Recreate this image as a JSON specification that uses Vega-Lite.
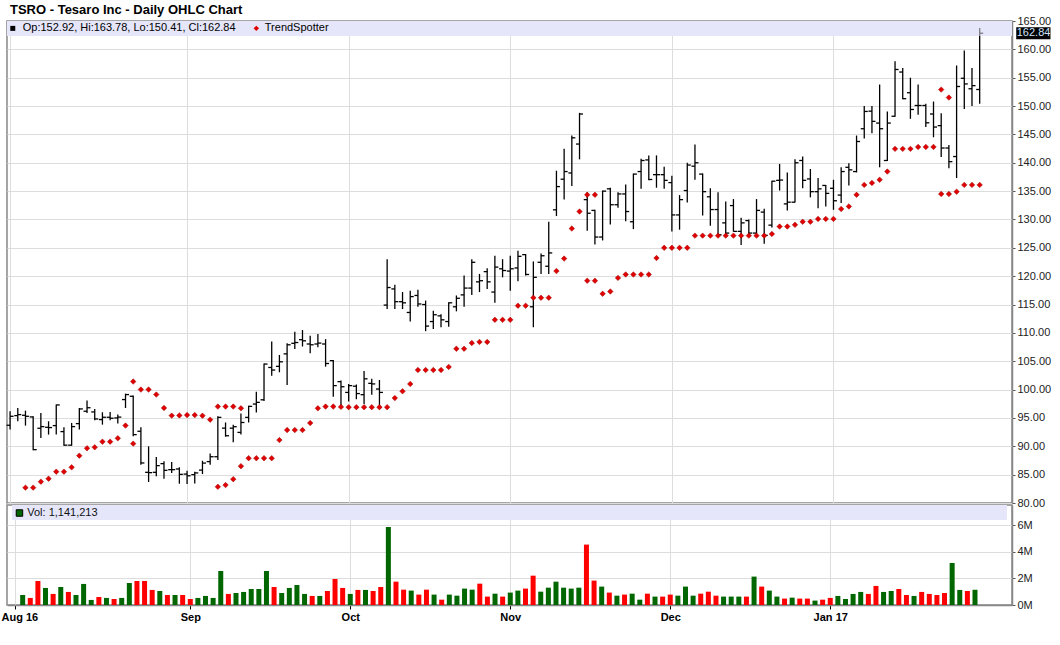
{
"$schema": "https://vega.github.io/schema/vega-lite/v6.json",
"background": "white",
"padding": {"left": 0, "top": 3, "right": 0, "bottom": 0},
"title": {"text": "TSRO - Tesaro Inc - Daily OHLC Chart", "anchor": "start", "frame": "group", "dx": 3, "font": "Liberation Sans", "fontSize": 13, "fontWeight": "bold", "color": "#000000", "offset": -2.5},
"config": {"view": {"stroke": "#888888", "strokeWidth": 1.5}, "axis": {"labelFont": "Liberation Sans", "labelFontSize": 11, "labelColor": "#222222", "gridColor": "#dddddd", "gridWidth": 1, "domainColor": "#888888", "domainWidth": 1.5, "labelOverlap": false}},
"spacing": 2,
"bounds": "flush",
"datasets": {
"px": [
{"i":0,"o":93.71,"h":96.18,"l":92.94,"c":95.29},
{"i":1,"o":95.41,"h":96.76,"l":94.41,"c":95.59,"v":750000,"d":"up"},
{"i":2,"o":95.47,"h":96.29,"l":93.65,"c":95.29,"v":530000,"d":"down"},
{"i":3,"o":95.18,"h":95.3,"l":89.29,"c":89.41,"v":1800000,"d":"down"},
{"i":4,"o":93.18,"h":95.88,"l":91.47,"c":93.47,"v":1280000,"d":"up"},
{"i":5,"o":93.35,"h":94.41,"l":92.06,"c":93.3,"v":830000,"d":"down"},
{"i":6,"o":93.65,"h":97.35,"l":92.06,"c":97.29,"v":1350000,"d":"up"},
{"i":7,"o":92.59,"h":93.35,"l":90.1,"c":90.2,"v":980000,"d":"down"},
{"i":8,"o":90.2,"h":94.12,"l":90.1,"c":93.47,"v":750000,"d":"up"},
{"i":9,"o":94.0,"h":96.76,"l":92.94,"c":96.59,"v":1580000,"d":"up"},
{"i":10,"o":96.18,"h":98.06,"l":95.88,"c":96.8,"v":380000,"d":"up"},
{"i":11,"o":96.06,"h":96.59,"l":94.59,"c":94.82,"v":600000,"d":"down"},
{"i":12,"o":94.71,"h":96.0,"l":93.82,"c":95.12,"v":530000,"d":"up"},
{"i":13,"o":95.12,"h":96.06,"l":94.59,"c":94.95,"v":450000,"d":"down"},
{"i":14,"o":95.0,"h":95.59,"l":94.0,"c":95.15,"v":530000,"d":"up"},
{"i":15,"o":98.24,"h":99.29,"l":96.76,"c":99.12,"v":1650000,"d":"up"},
{"i":16,"o":98.82,"h":98.94,"l":91.76,"c":92.06,"v":1800000,"d":"down"},
{"i":17,"o":92.65,"h":93.35,"l":86.76,"c":87.06,"v":1800000,"d":"down"},
{"i":18,"o":85.41,"h":90.0,"l":83.71,"c":85.35,"v":1130000,"d":"down"},
{"i":19,"o":85.41,"h":88.12,"l":84.71,"c":86.59,"v":1050000,"d":"up"},
{"i":20,"o":86.94,"h":87.35,"l":84.29,"c":85.76,"v":750000,"d":"down"},
{"i":21,"o":85.88,"h":87.24,"l":85.29,"c":85.88,"v":750000,"d":"up"},
{"i":22,"o":86.0,"h":86.3,"l":83.4,"c":85.05,"v":750000,"d":"down"},
{"i":23,"o":85.1,"h":85.69,"l":83.33,"c":84.8,"v":450000,"d":"down"},
{"i":24,"o":85.0,"h":85.5,"l":83.45,"c":85.3,"v":530000,"d":"up"},
{"i":25,"o":85.8,"h":87.45,"l":85.1,"c":87.04,"v":680000,"d":"up"},
{"i":26,"o":87.3,"h":88.75,"l":86.75,"c":88.16,"v":530000,"d":"up"},
{"i":27,"o":88.16,"h":95.28,"l":87.57,"c":95.1,"v":2550000,"d":"up"},
{"i":28,"o":93.2,"h":94.2,"l":91.7,"c":91.86,"v":830000,"d":"down"},
{"i":29,"o":93.2,"h":93.8,"l":90.7,"c":93.45,"v":900000,"d":"up"},
{"i":30,"o":92.45,"h":95.8,"l":92.1,"c":94.2,"v":980000,"d":"up"},
{"i":31,"o":95.1,"h":97.16,"l":94.2,"c":97.04,"v":1200000,"d":"up"},
{"i":32,"o":97.45,"h":99.63,"l":95.98,"c":97.75,"v":1200000,"d":"up"},
{"i":33,"o":98.2,"h":104.6,"l":98.0,"c":104.5,"v":2550000,"d":"up"},
{"i":34,"o":103.9,"h":108.5,"l":102.45,"c":103.45,"v":1350000,"d":"down"},
{"i":35,"o":104.1,"h":106.1,"l":103.05,"c":104.9,"v":900000,"d":"up"},
{"i":36,"o":106.3,"h":108.16,"l":100.8,"c":107.9,"v":1280000,"d":"up"},
{"i":37,"o":108.16,"h":110.2,"l":107.16,"c":108.3,"v":1500000,"d":"up"},
{"i":38,"o":108.8,"h":110.5,"l":107.6,"c":108.6,"v":830000,"d":"up"},
{"i":39,"o":108.04,"h":109.5,"l":106.4,"c":107.9,"v":680000,"d":"down"},
{"i":40,"o":108.04,"h":109.8,"l":107.45,"c":108.2,"v":680000,"d":"up"},
{"i":41,"o":108.04,"h":108.9,"l":104.04,"c":104.6,"v":1050000,"d":"down"},
{"i":42,"o":105.1,"h":105.2,"l":98.75,"c":100.7,"v":1950000,"d":"down"},
{"i":43,"o":101.4,"h":101.6,"l":96.86,"c":100.5,"v":1280000,"d":"down"},
{"i":44,"o":99.5,"h":101.0,"l":97.9,"c":100.7,"v":830000,"d":"up"},
{"i":45,"o":100.6,"h":100.9,"l":98.3,"c":99.3,"v":1130000,"d":"down"},
{"i":46,"o":99.1,"h":103.3,"l":97.45,"c":101.9,"v":1130000,"d":"up"},
{"i":47,"o":101.1,"h":101.9,"l":99.1,"c":101.0,"v":1050000,"d":"down"},
{"i":48,"o":100.1,"h":101.7,"l":96.6,"c":99.5,"v":1350000,"d":"down"},
{"i":49,"o":114.9,"h":123.0,"l":114.2,"c":118.0,"v":5850000,"d":"up"},
{"i":50,"o":117.75,"h":118.5,"l":114.2,"c":115.5,"v":1750000,"d":"down"},
{"i":51,"o":115.5,"h":117.2,"l":114.2,"c":115.3,"v":1150000,"d":"down"},
{"i":52,"o":113.6,"h":117.45,"l":112.0,"c":116.4,"v":1080000,"d":"up"},
{"i":53,"o":116.6,"h":117.6,"l":114.6,"c":115.1,"v":780000,"d":"down"},
{"i":54,"o":115.0,"h":115.7,"l":110.3,"c":111.2,"v":1150000,"d":"down"},
{"i":55,"o":112.0,"h":113.9,"l":110.7,"c":113.2,"v":780000,"d":"up"},
{"i":56,"o":113.0,"h":113.3,"l":111.0,"c":112.3,"v":400000,"d":"down"},
{"i":57,"o":112.0,"h":115.4,"l":111.1,"c":115.3,"v":780000,"d":"up"},
{"i":58,"o":114.6,"h":116.6,"l":113.8,"c":116.1,"v":700000,"d":"up"},
{"i":59,"o":116.7,"h":120.1,"l":114.6,"c":117.9,"v":1230000,"d":"up"},
{"i":60,"o":117.9,"h":123.0,"l":116.7,"c":122.45,"v":1150000,"d":"up"},
{"i":61,"o":119.0,"h":120.4,"l":117.2,"c":119.2,"v":1600000,"d":"down"},
{"i":62,"o":120.8,"h":121.4,"l":117.75,"c":119.0,"v":630000,"d":"down"},
{"i":63,"o":117.2,"h":123.6,"l":115.3,"c":121.6,"v":850000,"d":"up"},
{"i":64,"o":121.3,"h":123.0,"l":119.8,"c":121.0,"v":630000,"d":"down"},
{"i":65,"o":120.9,"h":123.6,"l":117.45,"c":121.3,"v":930000,"d":"up"},
{"i":66,"o":121.45,"h":124.5,"l":119.1,"c":123.5,"v":1080000,"d":"up"},
{"i":67,"o":123.8,"h":123.9,"l":120.1,"c":120.3,"v":1230000,"d":"down"},
{"i":68,"o":114.6,"h":122.6,"l":111.0,"c":119.8,"v":2200000,"d":"down"},
{"i":69,"o":122.45,"h":124.0,"l":120.4,"c":123.6,"v":1000000,"d":"up"},
{"i":70,"o":121.75,"h":129.6,"l":120.4,"c":124.1,"v":1300000,"d":"up"},
{"i":71,"o":131.7,"h":138.6,"l":130.6,"c":135.8,"v":1750000,"d":"up"},
{"i":72,"o":137.1,"h":142.45,"l":133.5,"c":138.45,"v":1300000,"d":"up"},
{"i":73,"o":138.2,"h":144.8,"l":135.9,"c":144.4,"v":1230000,"d":"up"},
{"i":74,"o":143.3,"h":148.8,"l":140.6,"c":148.6,"v":1300000,"d":"up"},
{"i":75,"o":133.5,"h":134.8,"l":128.0,"c":131.1,"v":4530000,"d":"down"},
{"i":76,"o":131.6,"h":131.7,"l":125.6,"c":126.9,"v":1830000,"d":"down"},
{"i":77,"o":126.9,"h":135.1,"l":126.3,"c":135.0,"v":1380000,"d":"up"},
{"i":78,"o":135.4,"h":135.6,"l":129.1,"c":132.6,"v":930000,"d":"down"},
{"i":79,"o":132.6,"h":134.8,"l":132.05,"c":134.5,"v":700000,"d":"up"},
{"i":80,"o":134.5,"h":136.15,"l":129.7,"c":131.4,"v":780000,"d":"down"},
{"i":81,"o":129.6,"h":138.1,"l":128.3,"c":138.0,"v":850000,"d":"up"},
{"i":82,"o":138.45,"h":140.7,"l":135.4,"c":140.4,"v":400000,"d":"up"},
{"i":83,"o":140.5,"h":141.3,"l":136.9,"c":137.05,"v":850000,"d":"down"},
{"i":84,"o":137.9,"h":141.3,"l":135.6,"c":137.9,"v":630000,"d":"up"},
{"i":85,"o":137.9,"h":139.3,"l":135.4,"c":136.9,"v":630000,"d":"down"},
{"i":86,"o":136.5,"h":137.7,"l":127.9,"c":130.8,"v":780000,"d":"down"},
{"i":87,"o":130.8,"h":134.3,"l":128.2,"c":133.5,"v":700000,"d":"up"},
{"i":88,"o":135.1,"h":140.0,"l":133.0,"c":139.6,"v":1380000,"d":"up"},
{"i":89,"o":139.4,"h":143.2,"l":137.0,"c":140.0,"v":700000,"d":"up"},
{"i":90,"o":138.0,"h":138.1,"l":130.7,"c":134.9,"v":850000,"d":"down"},
{"i":91,"o":134.0,"h":135.5,"l":128.9,"c":131.75,"v":1000000,"d":"down"},
{"i":92,"o":131.75,"h":134.8,"l":127.0,"c":127.3,"v":700000,"d":"down"},
{"i":93,"o":129.4,"h":133.15,"l":126.9,"c":127.6,"v":630000,"d":"up"},
{"i":94,"o":132.45,"h":133.6,"l":127.85,"c":127.9,"v":630000,"d":"up"},
{"i":95,"o":127.9,"h":130.3,"l":125.5,"c":129.4,"v":630000,"d":"up"},
{"i":96,"o":129.8,"h":130.0,"l":127.2,"c":127.6,"v":630000,"d":"down"},
{"i":97,"o":127.6,"h":133.6,"l":127.3,"c":131.6,"v":2130000,"d":"up"},
{"i":98,"o":131.3,"h":131.9,"l":125.7,"c":127.2,"v":1380000,"d":"down"},
{"i":99,"o":129.0,"h":136.85,"l":128.6,"c":136.75,"v":1080000,"d":"up"},
{"i":100,"o":136.9,"h":139.8,"l":135.1,"c":136.95,"v":630000,"d":"up"},
{"i":101,"o":132.75,"h":138.3,"l":131.6,"c":133.05,"v":480000,"d":"down"},
{"i":102,"o":133.05,"h":140.6,"l":133.0,"c":140.0,"v":550000,"d":"up"},
{"i":103,"o":140.4,"h":141.1,"l":135.5,"c":136.9,"v":480000,"d":"down"},
{"i":104,"o":137.15,"h":138.9,"l":133.9,"c":134.9,"v":480000,"d":"down"},
{"i":105,"o":134.9,"h":137.3,"l":132.0,"c":135.4,"v":330000,"d":"up"},
{"i":106,"o":136.0,"h":136.1,"l":132.3,"c":134.6,"v":400000,"d":"down"},
{"i":107,"o":135.5,"h":137.0,"l":131.7,"c":133.3,"v":530000,"d":"down"},
{"i":108,"o":134.3,"h":139.2,"l":132.9,"c":138.45,"v":680000,"d":"up"},
{"i":109,"o":139.2,"h":139.9,"l":136.0,"c":138.75,"v":450000,"d":"up"},
{"i":110,"o":138.45,"h":144.8,"l":138.3,"c":143.75,"v":830000,"d":"up"},
{"i":111,"o":146.0,"h":150.0,"l":144.3,"c":149.05,"v":980000,"d":"up"},
{"i":112,"o":149.1,"h":150.0,"l":145.2,"c":147.3,"v":830000,"d":"down"},
{"i":113,"o":147.0,"h":153.8,"l":139.2,"c":146.0,"v":1430000,"d":"down"},
{"i":114,"o":140.4,"h":149.05,"l":140.3,"c":147.0,"v":980000,"d":"up"},
{"i":115,"o":148.2,"h":157.9,"l":148.1,"c":156.45,"v":1050000,"d":"up"},
{"i":116,"o":156.0,"h":156.7,"l":151.2,"c":151.3,"v":1200000,"d":"down"},
{"i":117,"o":152.35,"h":155.0,"l":147.75,"c":149.4,"v":750000,"d":"down"},
{"i":118,"o":150.1,"h":153.8,"l":148.45,"c":150.1,"v":680000,"d":"up"},
{"i":119,"o":150.1,"h":150.4,"l":146.3,"c":147.05,"v":980000,"d":"down"},
{"i":120,"o":148.6,"h":150.8,"l":144.5,"c":146.3,"v":830000,"d":"down"},
{"i":121,"o":146.55,"h":148.75,"l":141.0,"c":142.6,"v":750000,"d":"down"},
{"i":122,"o":142.6,"h":143.15,"l":139.05,"c":140.2,"v":900000,"d":"down"},
{"i":123,"o":141.1,"h":157.15,"l":137.3,"c":153.45,"v":3150000,"d":"up"},
{"i":124,"o":154.9,"h":159.8,"l":149.5,"c":153.9,"v":1130000,"d":"up"},
{"i":125,"o":153.05,"h":156.7,"l":150.0,"c":153.6,"v":1050000,"d":"down"},
{"i":126,"o":152.92,"h":163.78,"l":150.41,"c":162.84,"v":1141213,"d":"up"}
],
"ts": [
{"i":2,"t":82.71},{"i":3,"t":82.71},{"i":4,"t":83.76},{"i":5,"t":84.29},{"i":6,"t":85.53},{"i":7,"t":85.53},{"i":8,"t":86.29},{"i":9,"t":88.35},{"i":10,"t":89.65},{"i":11,"t":89.82},{"i":12,"t":90.82},{"i":13,"t":90.82},{"i":14,"t":91.41},{"i":15,"t":93.65},{"i":16,"t":90.47},{"i":16,"t":101.41},{"i":17,"t":100.0},{"i":18,"t":100.0},{"i":19,"t":99.12},{"i":20,"t":96.76},{"i":21,"t":95.41},{"i":22,"t":95.45},{"i":23,"t":95.5},{"i":24,"t":95.5},{"i":25,"t":95.4},{"i":26,"t":94.7},{"i":27,"t":97.0},{"i":27,"t":82.86},{"i":28,"t":97.0},{"i":28,"t":83.16},{"i":29,"t":97.0},{"i":29,"t":84.2},{"i":30,"t":96.7},{"i":30,"t":86.5},{"i":31,"t":87.9},{"i":32,"t":87.9},{"i":33,"t":87.9},{"i":34,"t":87.9},{"i":35,"t":91.1},{"i":36,"t":92.86},{"i":37,"t":92.86},{"i":38,"t":92.86},{"i":39,"t":94.1},{"i":40,"t":96.7},{"i":41,"t":97.0},{"i":42,"t":97.0},{"i":43,"t":96.95},{"i":44,"t":96.9},{"i":45,"t":96.9},{"i":46,"t":96.9},{"i":47,"t":96.9},{"i":48,"t":96.9},{"i":49,"t":96.9},{"i":50,"t":98.5},{"i":51,"t":99.7},{"i":52,"t":101.0},{"i":53,"t":103.45},{"i":54,"t":103.45},{"i":55,"t":103.45},{"i":56,"t":103.45},{"i":57,"t":104.0},{"i":58,"t":107.2},{"i":59,"t":107.2},{"i":60,"t":108.2},{"i":61,"t":108.4},{"i":62,"t":108.4},{"i":63,"t":112.3},{"i":64,"t":112.3},{"i":65,"t":112.3},{"i":66,"t":114.8},{"i":67,"t":114.8},{"i":68,"t":116.2},{"i":69,"t":116.2},{"i":70,"t":116.2},{"i":71,"t":120.9},{"i":72,"t":123.1},{"i":73,"t":128.4},{"i":74,"t":131.4},{"i":75,"t":134.35},{"i":75,"t":119.2},{"i":76,"t":134.35},{"i":76,"t":119.2},{"i":77,"t":116.9},{"i":78,"t":117.3},{"i":79,"t":119.7},{"i":80,"t":120.3},{"i":81,"t":120.3},{"i":82,"t":120.3},{"i":83,"t":120.3},{"i":84,"t":123.2},{"i":85,"t":125.0},{"i":86,"t":125.0},{"i":87,"t":125.0},{"i":88,"t":125.0},{"i":89,"t":127.15},{"i":90,"t":127.15},{"i":91,"t":127.15},{"i":92,"t":127.15},{"i":93,"t":127.15},{"i":94,"t":127.15},{"i":95,"t":127.15},{"i":96,"t":127.15},{"i":97,"t":127.15},{"i":98,"t":127.15},{"i":99,"t":127.45},{"i":100,"t":128.75},{"i":101,"t":128.75},{"i":102,"t":129.05},{"i":103,"t":129.6},{"i":104,"t":129.6},{"i":105,"t":130.1},{"i":106,"t":130.1},{"i":107,"t":130.1},{"i":108,"t":131.85},{"i":109,"t":132.3},{"i":110,"t":134.35},{"i":111,"t":136.1},{"i":112,"t":136.45},{"i":113,"t":137.0},{"i":114,"t":138.45},{"i":115,"t":142.45},{"i":116,"t":142.45},{"i":117,"t":142.45},{"i":118,"t":142.8},{"i":119,"t":142.8},{"i":120,"t":142.8},{"i":121,"t":152.9},{"i":121,"t":134.5},{"i":122,"t":151.5},{"i":122,"t":134.5},{"i":123,"t":134.9},{"i":124,"t":136.1},{"i":125,"t":136.1},{"i":126,"t":136.1}
]
},
"vconcat": [
{
"width": 1005, "height": 482,
"layer": [
{"data": {"values": [{}]}, "mark": {"type": "rect", "color": "#e6e6fa"},
 "encoding": {
  "x": {"datum": -0.4, "type": "quantitative", "scale": {"domain": [-0.4, 130.2], "nice": false, "zero": false},
        "axis": {"values": [0, 23, 44, 65, 86, 107], "tickCount": 20, "labels": false, "ticks": false, "domain": false, "grid": true, "title": null}},
  "x2": {"datum": 130.2},
  "y": {"datum": 165, "type": "quantitative", "scale": {"domain": [80, 165], "nice": false, "zero": false},
        "axis": {"orient": "right", "values": [80,85,90,95,100,105,110,115,120,125,130,135,140,145,150,155,160,165], "tickCount": 40, "format": ".2f", "title": null, "grid": true, "tickSize": 3, "tickColor": "#555555", "labelPadding": 2, "labelOverlap": false, "labelBound": false}},
  "y2": {"datum": 162.35}}},
{"data": {"name": "px"}, "mark": {"type": "rule", "color": "#000000", "strokeWidth": 1.3},
 "encoding": {"x": {"field": "i", "type": "quantitative"}, "y": {"field": "l", "type": "quantitative"}, "y2": {"field": "h"}}},
{"data": {"name": "px"}, "mark": {"type": "rule", "color": "#000000", "strokeWidth": 1.3, "xOffset": -3.5},
 "encoding": {"x": {"field": "i", "type": "quantitative"}, "x2": {"field": "i"}, "y": {"field": "o", "type": "quantitative"}}},
{"data": {"name": "px"}, "mark": {"type": "rule", "color": "#000000", "strokeWidth": 1.3, "x2Offset": 3.5},
 "encoding": {"x": {"field": "i", "type": "quantitative"}, "x2": {"field": "i"}, "y": {"field": "c", "type": "quantitative"}}},
{"data": {"name": "ts"}, "mark": {"type": "point", "shape": "diamond", "filled": true, "size": 30, "color": "#e00000", "stroke": "#a00000", "strokeWidth": 0.5, "opacity": 1},
 "encoding": {"x": {"field": "i", "type": "quantitative"}, "y": {"field": "t", "type": "quantitative"}}},
{"data": {"values": [{}]}, "mark": {"type": "rect", "color": "#e6e6fa", "opacity": 0.55},
 "encoding": {"x": {"datum": -0.4}, "x2": {"datum": 130.2}, "y": {"datum": 165}, "y2": {"datum": 162.35}}},
{"data": {"values": [{}]}, "mark": {"type": "point", "shape": "square", "filled": true, "size": 25, "color": "#000000", "opacity": 1},
 "encoding": {"x": {"datum": 0.35}, "y": {"datum": 163.7}}},
{"data": {"values": [{}]}, "mark": {"type": "text", "align": "left", "baseline": "middle", "font": "Liberation Sans", "fontSize": 11, "color": "#000000"},
 "encoding": {"x": {"datum": 1.65}, "y": {"datum": 163.7}, "text": {"value": "Op:152.92, Hi:163.78, Lo:150.41, Cl:162.84"}}},
{"data": {"values": [{}]}, "mark": {"type": "point", "shape": "diamond", "filled": true, "size": 30, "color": "#e00000", "opacity": 1},
 "encoding": {"x": {"datum": 32.0}, "y": {"datum": 163.7}}},
{"data": {"values": [{}]}, "mark": {"type": "text", "align": "left", "baseline": "middle", "font": "Liberation Sans", "fontSize": 11, "color": "#000000"},
 "encoding": {"x": {"datum": 33.1}, "y": {"datum": 163.7}, "text": {"value": "TrendSpotter"}}},
{"data": {"values": [{}]}, "mark": {"type": "rect", "color": "#000000"},
 "encoding": {"x": {"datum": 130.75}, "x2": {"datum": 135.2}, "y": {"datum": 161.78}, "y2": {"datum": 163.9}}},
{"data": {"values": [{}]}, "mark": {"type": "text", "align": "center", "baseline": "middle", "font": "Liberation Sans", "fontSize": 11, "color": "#cfe2ff"},
 "encoding": {"x": {"datum": 133.0}, "y": {"datum": 162.84}, "text": {"value": "162.84"}}}
]
},
{
"width": 1005, "height": 100,
"layer": [
{"data": {"values": [{}]}, "mark": {"type": "rect", "color": "#e6e6fa"},
 "encoding": {
  "x": {"datum": -0.4, "type": "quantitative", "scale": {"domain": [-0.4, 130.2], "nice": false, "zero": false},
        "axis": {"orient": "bottom", "values": [0, 23, 44, 65, 86, 107], "tickCount": 20, "title": null, "grid": true,
                 "labelExpr": "datum.value == 0 ? 'Aug 16' : datum.value == 23 ? 'Sep' : datum.value == 44 ? 'Oct' : datum.value == 65 ? 'Nov' : datum.value == 86 ? 'Dec' : 'Jan 17'",
                 "labelFontWeight": "bold", "labelColor": "#000000", "labelFontSize": 11, "tickSize": 4, "tickColor": "#000000", "labelPadding": 2, "labelFlush": false, "labelOverlap": false,
                 "labelAlign": {"condition": {"test": "datum.value == 0", "value": "left"}, "value": "center"},
                 "labelOffset": {"condition": {"test": "datum.value == 0", "value": -14}, "value": 0}}},
  "x2": {"datum": 130.2},
  "y": {"datum": 7500000, "type": "quantitative", "scale": {"domain": [0, 7500000], "nice": false},
        "axis": {"orient": "right", "values": [0, 2000000, 4000000, 6000000], "tickCount": 10, "labelExpr": "format(datum.value / 1000000, 'd') + 'M'", "title": null, "grid": true, "tickSize": 3, "tickColor": "#555555", "labelPadding": 2, "labelOverlap": false, "labelBound": false}},
  "y2": {"datum": 6375000}}},
{"data": {"name": "px"}, "mark": {"type": "bar", "width": 5, "orient": "vertical"},
 "encoding": {"x": {"field": "i", "type": "quantitative"}, "y": {"field": "v", "type": "quantitative"},
  "color": {"field": "d", "type": "nominal", "scale": {"domain": ["up", "down"], "range": ["#006600", "#ff0000"]}, "legend": null}}},
{"data": {"values": [{}]}, "mark": {"type": "point", "shape": "square", "filled": true, "size": 42, "color": "#006600", "stroke": "#000000", "strokeWidth": 1, "opacity": 1},
 "encoding": {"x": {"datum": 0.58}, "y": {"datum": 6900000}}},
{"data": {"values": [{}]}, "mark": {"type": "text", "align": "left", "baseline": "middle", "font": "Liberation Sans", "fontSize": 11, "color": "#111111"},
 "encoding": {"x": {"datum": 1.6}, "y": {"datum": 6900000}, "text": {"value": "Vol: 1,141,213"}}}
]
}
]
}
